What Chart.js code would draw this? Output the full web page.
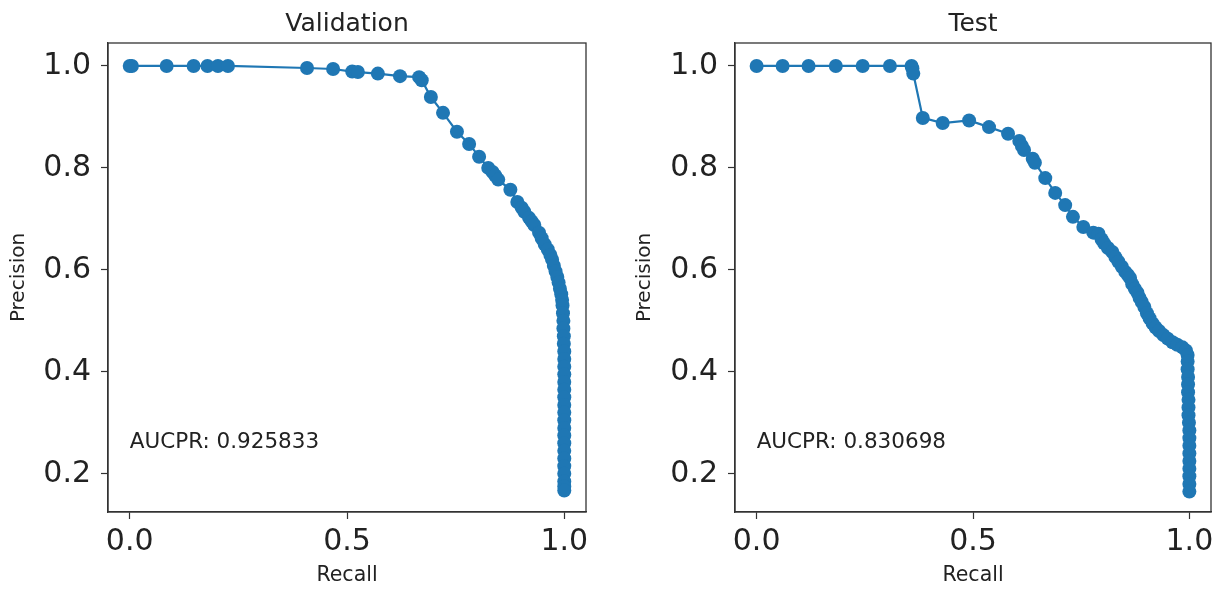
<!DOCTYPE html>
<html>
<head>
<meta charset="utf-8">
<script src="https://cdn.jsdelivr.net/npm/chart.js@4.4.0/dist/chart.umd.min.js"></script>
<style>
  body { margin: 0; background: #fff; }
  .box { position: absolute; top: 0; height: 590px; }
</style>
</head>
<body>
<div class="box" style="left:0;width:610px"><canvas id="valChart"></canvas></div>
<div class="box" style="left:610px;width:609px"><canvas id="testChart"></canvas></div>
<script>
var valRecall = [0, 0.005, 0.085, 0.147, 0.179, 0.203, 0.226, 0.408, 0.468, 0.512, 0.525, 0.571, 0.622, 0.666, 0.672,
  0.693, 0.721, 0.753, 0.781, 0.804, 0.825, 0.835, 0.841, 0.848, 0.876, 0.892, 0.902, 0.908, 0.919, 0.925, 0.931,
  0.942, 0.948, 0.955, 0.962, 0.968, 0.972, 0.976, 0.98, 0.984, 0.987, 0.99, 0.993, 0.995, 0.996, 0.997, 0.998,
  0.998, 0.999, 0.999, 1, 1, 1, 1, 1, 1, 1, 1, 1, 1, 1, 1, 1, 1, 1, 1, 1, 1, 1, 1];
var valPrecision = [1, 1, 1, 1, 1, 1, 1, 0.996, 0.994, 0.989, 0.988, 0.985, 0.98, 0.978, 0.972,
  0.939, 0.908, 0.871, 0.847, 0.822, 0.80, 0.792, 0.785, 0.777, 0.757, 0.733, 0.722, 0.714, 0.702, 0.695, 0.688,
  0.673, 0.662, 0.65, 0.64, 0.629, 0.62, 0.608, 0.597, 0.586, 0.575, 0.563, 0.552, 0.541, 0.53, 0.515, 0.5,
  0.485, 0.47, 0.455, 0.44, 0.425, 0.41, 0.395, 0.38, 0.365, 0.35, 0.335, 0.32, 0.305, 0.29, 0.275, 0.26, 0.245,
  0.23, 0.215, 0.2, 0.185, 0.175, 0.167];

var testRecall = [0, 0.06, 0.12, 0.183, 0.245, 0.308, 0.358, 0.36, 0.362, 0.384, 0.43, 0.491, 0.537, 0.581, 0.607,
  0.613, 0.618, 0.638, 0.643, 0.667, 0.69, 0.713, 0.731, 0.755, 0.778, 0.79, 0.797, 0.803, 0.812, 0.822, 0.829,
  0.836, 0.844, 0.852, 0.858, 0.863, 0.868, 0.874, 0.88, 0.885, 0.89, 0.896, 0.902, 0.908, 0.915, 0.922, 0.93,
  0.94, 0.95, 0.961, 0.972, 0.984, 0.992, 0.996, 0.996, 0.996, 0.997, 0.997, 0.997, 0.998, 0.998, 0.998, 0.999,
  1, 1, 1, 1, 1, 1, 1, 1, 1];
var testPrecision = [1, 1, 1, 1, 1, 1, 1, 0.995, 0.985, 0.898, 0.888, 0.893, 0.880, 0.867, 0.853,
  0.843, 0.835, 0.818, 0.81, 0.78, 0.751, 0.727, 0.704, 0.684, 0.673, 0.671, 0.66, 0.652, 0.643, 0.635, 0.625,
  0.616, 0.606, 0.596, 0.59, 0.584, 0.572, 0.563, 0.555, 0.545, 0.537, 0.527, 0.515, 0.505, 0.495, 0.487, 0.48,
  0.472, 0.465, 0.458, 0.453, 0.448, 0.442, 0.433, 0.42, 0.405, 0.39, 0.375, 0.36, 0.345, 0.33, 0.315, 0.30,
  0.285, 0.27, 0.255, 0.24, 0.225, 0.21, 0.195, 0.18, 0.165];

var xTicks = [0, 0.5, 1];
var xTickLabels = ['0.0', '0.5', '1.0'];
var yTicks = [0.2, 0.4, 0.6, 0.8, 1.0];
var yTickLabels = ['0.2', '0.4', '0.6', '0.8', '1.0'];

var blue = '#1f77b4';
var ink = '#222222';
var font = 'DejaVu Sans';

function toPoints(xs, ys) {
  return xs.map(function (x, i) { return {x: x, y: ys[i]}; });
}

// frame, title and AUCPR note, drawn like matplotlib does
var decor = {
  id: 'decor',
  afterDraw: function (chart, args, opts) {
    var c = chart.ctx, a = chart.chartArea;
    c.save();
    c.strokeStyle = '#333';
    c.lineWidth = 1.3;
    c.strokeRect(a.left, a.top, a.right - a.left, a.bottom - a.top);
    c.fillStyle = ink;
    c.font = '25px "' + font + '"';
    c.textAlign = 'center';
    c.textBaseline = 'alphabetic';
    c.fillText(opts.title, (a.left + a.right) / 2, 31);
    c.font = '21.5px "' + font + '"';
    c.textAlign = 'left';
    c.fillText(opts.note, chart.scales.x.getPixelForValue(0), chart.scales.y.getPixelForValue(0.25));
    c.restore();
  }
};

function makeChart(id, xs, ys, title, note, yWidth, yTitlePad, rightPad) {
  return new Chart(document.getElementById(id), {
    type: 'scatter',
    data: {
      datasets: [{
        data: toPoints(xs, ys),
        showLine: true,
        borderColor: blue,
        backgroundColor: blue,
        borderWidth: 2.2,
        pointRadius: 7,
        pointBorderWidth: 0,
        pointHoverRadius: 7
      }]
    },
    options: {
      responsive: true,
      maintainAspectRatio: false,
      animation: false,
      layout: { padding: { left: 0, right: rightPad, top: 43, bottom: 0 } },
      plugins: {
        legend: { display: false },
        tooltip: { enabled: false },
        decor: { title: title, note: note }
      },
      scales: {
        x: {
          type: 'linear',
          min: -0.05,
          max: 1.05,
          afterFit: function (s) { s.height = 78; },
          afterBuildTicks: function (s) { s.ticks = xTicks.map(function (v) { return {value: v}; }); },
          grid: { drawOnChartArea: false, tickLength: 7, tickColor: '#333', tickWidth: 1.2 },
          border: { display: true, color: '#333', width: 1.3 },
          ticks: {
            padding: 5,
            color: ink,
            maxRotation: 0,
            font: { family: font, size: 30 },
            callback: function (v, i) { return xTickLabels[i]; }
          },
          title: { display: true, text: 'Recall', color: ink, font: { family: font, size: 20.5 }, padding: { top: 0, bottom: 2 } }
        },
        y: {
          type: 'linear',
          min: 0.125,
          max: 1.045,
          afterFit: function (s) { s.width = yWidth; },
          afterBuildTicks: function (s) { s.ticks = yTicks.map(function (v) { return {value: v}; }); },
          grid: { drawOnChartArea: false, tickLength: 7, tickColor: '#333', tickWidth: 1.2 },
          border: { display: true, color: '#333', width: 1.3 },
          ticks: {
            padding: 10,
            color: ink,
            font: { family: font, size: 30 },
            callback: function (v, i) { return yTickLabels[i]; }
          },
          title: { display: true, text: 'Precision', color: ink, font: { family: font, size: 20 }, padding: { top: yTitlePad, bottom: 0 } }
        }
      }
    },
    plugins: [decor]
  });
}

makeChart('valChart', valRecall, valPrecision, 'Validation', 'AUCPR: 0.925833', 108, 7, 24);
makeChart('testChart', testRecall, testPrecision, 'Test', 'AUCPR: 0.830698', 125, 23, 8);
</script>
</body>
</html>
